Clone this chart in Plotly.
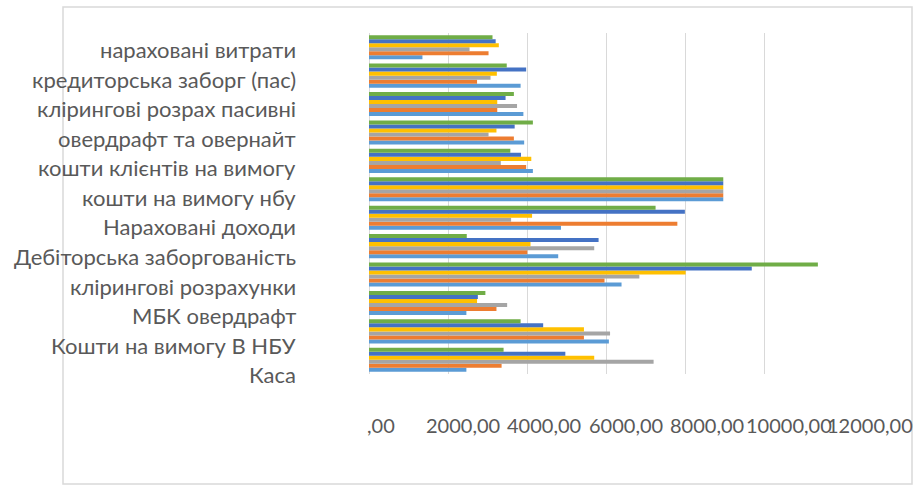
import plotly.graph_objects as go

# Categories listed top -> bottom as they appear
categories = [
    "нараховані витрати",
    "кредиторська заборг (пас)",
    "клірингові розрах пасивні",
    "овердрафт та овернайт",
    "кошти клієнтів на вимогу",
    "кошти на вимогу нбу",
    "Нараховані доходи",
    "Дебіторська заборгованість",
    "клірингові розрахунки",
    "МБК овердрафт",
    "Кошти на вимогу В НБУ",
    "Каса",
]

# Series values (top -> bottom category order)
s1_lightblue = [1350, 3830, 3900, 3920, 4140, 8950, 4850, 4780, 6380, 2460, 6060, 2460]
s2_orange    = [3020, 2730, 3240, 3660, 3970, 8950, 7790, 4000, 5950, 3220, 5430, 3350]
s3_gray      = [2540, 3070, 3740, 3020, 3330, 8950, 3590, 5690, 6830, 3490, 6090, 7190]
s4_yellow    = [3280, 3230, 3240, 3220, 4100, 8950, 4120, 4080, 8000, 2730, 5430, 5690]
s5_darkblue  = [3200, 3970, 3450, 3680, 3840, 8950, 7980, 5800, 9670, 2750, 4400, 4960]
s6_green     = [3120, 3480, 3660, 4140, 3570, 8950, 7240, 2470, 11340, 2940, 3830, 3400]

tick_vals = [0, 2000, 4000, 6000, 8000, 10000, 12000]
tick_text = [",00", "2000,00", "4000,00", "6000,00", "8000,00", "10000,00", "12000,00"]

series = [s1_lightblue, s2_orange, s3_gray, s4_yellow, s5_darkblue, s6_green]
colors = ["#5B9BD5", "#ED7D31", "#A5A5A5", "#FFC000", "#4472C4", "#70AD47"]

n = len(categories)
# numeric positions: bottom category (Каса) = 0
ypos = [n - 1 - i for i in range(n)]

W, H = 914, 486
L, R, T, B = 369, 70, 33, 112
plot_h = H - T - B
plot_w = W - L - R

fig = go.Figure()
for vals, col in zip(series, colors):
    fig.add_trace(go.Bar(
        x=vals, y=ypos, orientation="h",
        marker=dict(color=col, line=dict(width=0)),
        showlegend=False,
    ))

font_family = "Lato, 'Open Sans', sans-serif"
text_col = "#595959"

annotations = []
# category labels (drawn as text beside the axis)
for k, cat in enumerate(categories):
    ypx = 49.7 + k * 29.55
    annotations.append(dict(
        text=cat, xref="paper", yref="paper",
        x=(298 - L) / plot_w, y=(H - B - ypx) / plot_h,
        xanchor="right", yanchor="middle", showarrow=False,
        font=dict(family=font_family, size=22, color=text_col),
    ))
# value-axis labels, laid out as in the reference (slightly wider spacing than grid)
for k, txt in enumerate(tick_text):
    xpx = 381 + k * 81.5
    annotations.append(dict(
        text=txt, xref="paper", yref="paper",
        x=(xpx - L) / plot_w, y=(H - B - 425) / plot_h,
        xanchor="center", yanchor="middle", showarrow=False,
        font=dict(family=font_family, size=20, color=text_col),
    ))

fig.update_layout(
    width=W, height=H,
    margin=dict(l=L, r=R, t=T, b=B, autoexpand=False),
    paper_bgcolor="white", plot_bgcolor="white",
    barmode="group", bargap=0.15, bargroupgap=0,
    annotations=annotations,
    shapes=[dict(type="rect", xref="paper", yref="paper",
                 x0=(63 - L) / plot_w, x1=(912 - L) / plot_w,
                 y0=(H - B - 484) / plot_h, y1=(H - B - 7) / plot_h,
                 line=dict(color="#d9d9d9", width=1.5), layer="below")],
    xaxis=dict(
        range=[0, 12000], tickvals=tick_vals, showticklabels=False,
        showgrid=True, gridcolor="#d9d9d9", gridwidth=1,
        zeroline=True, zerolinecolor="#d9d9d9", zerolinewidth=1,
        showline=False, ticks="",
    ),
    yaxis=dict(
        range=[-0.5, n - 0.5], showticklabels=False, showgrid=False,
        zeroline=False, showline=False, ticks="",
    ),
)

fig.write_html("out.html")
